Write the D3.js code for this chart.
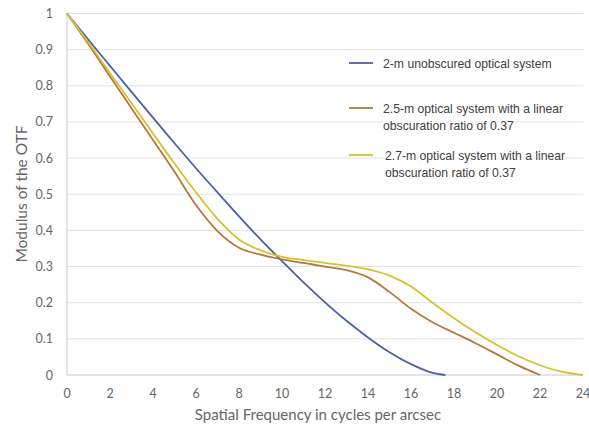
<!DOCTYPE html>
<html>
<head>
<meta charset="utf-8">
<script src="https://cdn.jsdelivr.net/npm/d3@7"></script>
<style>
  body { margin: 0; background: #fff; }
  svg { display: block; }
</style>
</head>
<body>
<svg width="589" height="425"></svg>
<script>
// values
var freqBlue   = [0, 1, 2, 3, 4, 5, 6, 7, 8, 9, 10, 11, 12, 13, 14, 15, 16, 17, 17.6];
var mtfBlue    = [1, 0.927, 0.855, 0.783, 0.712, 0.641, 0.572, 0.505, 0.439, 0.375, 0.315, 0.256, 0.201, 0.150, 0.104, 0.063, 0.030, 0.006, 0];

var freqBrown  = [0, 1, 2, 3, 4, 5, 6, 7, 8, 9, 10, 11, 12, 13, 14, 15, 16, 17, 18, 19, 20, 21, 22];
var mtfBrown   = [1, 0.915, 0.826, 0.738, 0.650, 0.562, 0.470, 0.398, 0.352, 0.333, 0.320, 0.310, 0.300, 0.290, 0.270, 0.230, 0.183, 0.146, 0.117, 0.088, 0.057, 0.026, 0];

var freqYellow = [0, 1, 2, 3, 4, 5, 6, 7, 8, 9, 10, 11, 12, 13, 14, 15, 16, 17, 18, 19, 20, 21, 22, 23, 24];
var mtfYellow  = [1, 0.92, 0.835, 0.752, 0.668, 0.585, 0.505, 0.432, 0.375, 0.345, 0.327, 0.318, 0.310, 0.302, 0.292, 0.275, 0.245, 0.200, 0.157, 0.118, 0.083, 0.052, 0.027, 0.009, 0];

var seriesNames = [
  ["2-m unobscured optical system"],
  ["2.5-m optical system with a linear", "obscuration ratio of 0.37"],
  ["2.7-m optical system with a linear", "obscuration ratio of 0.37"]
];
var seriesColors = ["#4f5ea8", "#b7773c", "#d6c130"];

var xTicks = d3.range(0, 25, 2);
var yTicks = d3.range(0, 11).map(function (i) { return i / 10; });

var svg = d3.select("svg");

var x = d3.scaleLinear().domain([0, 24]).range([67, 583]);
var y = d3.scaleLinear().domain([0, 1]).range([375, 13.5]);

// gridlines
svg.append("g")
    .selectAll("line")
    .data(yTicks.slice(1))
    .enter()
    .append("line")
    .attr("x1", x(0))
    .attr("x2", x(24))
    .attr("y1", function (d) { return y(d); })
    .attr("y2", function (d) { return y(d); })
    .style("stroke", "#e3e3e3")
    .style("stroke-width", 1);

// axis lines
svg.append("line")
    .attr("x1", x(0)).attr("x2", x(0))
    .attr("y1", y(0)).attr("y2", y(1))
    .style("stroke", "#c8c8c8");
svg.append("line")
    .attr("x1", x(0)).attr("x2", x(24))
    .attr("y1", y(0)).attr("y2", y(0))
    .style("stroke", "#c8c8c8");

// tick labels
svg.append("g")
    .selectAll("text")
    .data(xTicks)
    .enter()
    .append("text")
    .attr("x", function (d) { return x(d); })
    .attr("y", 398)
    .attr("text-anchor", "middle")
    .style("font-family", "Lato, sans-serif")
    .style("font-size", "12.5px")
    .style("fill", "#666")
    .text(function (d) { return d; });

svg.append("g")
    .selectAll("text")
    .data(yTicks)
    .enter()
    .append("text")
    .attr("x", 53)
    .attr("y", function (d) { return y(d) + 4.5; })
    .attr("text-anchor", "end")
    .style("font-family", "Lato, sans-serif")
    .style("font-size", "12.5px")
    .style("fill", "#666")
    .text(function (d) { return d; });

// axis titles
svg.append("text")
    .attr("x", 318)
    .attr("y", 420)
    .attr("text-anchor", "middle")
    .style("font-family", "Lato, sans-serif")
    .style("font-size", "15px")
    .style("fill", "#666")
    .text("Spatial Frequency in cycles per arcsec");

svg.append("text")
    .attr("transform", "translate(27,194) rotate(-90)")
    .attr("text-anchor", "middle")
    .style("font-family", "Lato, sans-serif")
    .style("font-size", "15.5px")
    .style("fill", "#666")
    .text("Modulus of the OTF");

// curves
var line = d3.line()
    .x(function (d) { return x(d[0]); })
    .y(function (d) { return y(d[1]); })
    .curve(d3.curveMonotoneX);

var series = [
  d3.zip(freqBlue, mtfBlue),
  d3.zip(freqBrown, mtfBrown),
  d3.zip(freqYellow, mtfYellow)
];

svg.append("g")
    .selectAll("path")
    .data(series)
    .enter()
    .append("path")
    .attr("d", line)
    .style("fill", "none")
    .style("stroke", function (d, i) { return seriesColors[i]; })
    .style("stroke-width", 1.8);

// legend
var legendY = [63, 108, 155];
var legendTextX = [383, 383, 385];
var legend = svg.append("g")
    .selectAll("g")
    .data(seriesNames)
    .enter()
    .append("g");

legend.append("line")
    .attr("x1", 349).attr("x2", 373)
    .attr("y1", function (d, i) { return legendY[i]; })
    .attr("y2", function (d, i) { return legendY[i]; })
    .style("stroke", function (d, i) { return seriesColors[i]; })
    .style("stroke-width", 1.8);

legend.each(function (d, i) {
    var g = d3.select(this);
    d.forEach(function (t, j) {
        g.append("text")
            .attr("x", legendTextX[i])
            .attr("y", legendY[i] + 4.5 + j * 17)
            .style("font-family", "'Liberation Sans', Arial, sans-serif")
            .style("font-size", "12.2px")
            .style("fill", "#404040")
            .style("paint-order", "stroke")
            .style("stroke", "#fff")
            .style("stroke-width", 3)
            .text(t);
    });
});
</script>
</body>
</html>
